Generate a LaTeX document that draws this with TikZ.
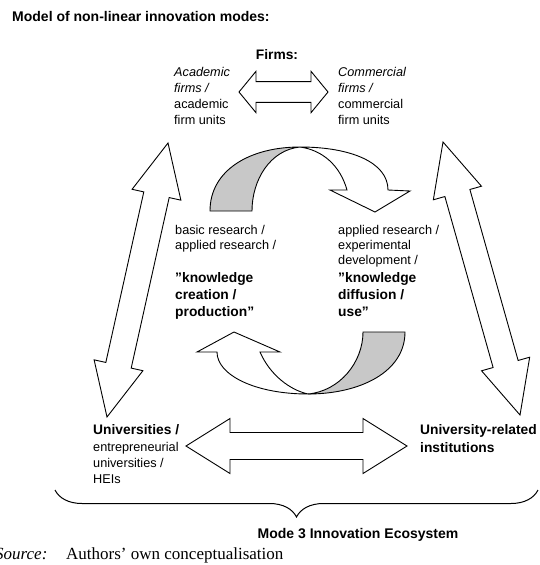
\documentclass[tikz,border=0pt]{standalone}
\usepackage{fontspec}
\setmainfont{Liberation Sans}
\newfontfamily\srcfont{Liberation Serif}
\usetikzlibrary{calc,decorations.pathreplacing}

\definecolor{bandgray}{HTML}{C8C8C8}

\tikzset{
  outline/.style={draw=black, line width=0.9pt, line join=miter},
  blockarrow/.style={outline, fill=white},
  % multi-line labels are placed by the baseline of their last line
  lbl/.style={inner sep=0pt, anchor=base west, align=left, text=black},
  regtext/.style={font=\fontsize{12.7}{16}\selectfont},
  boldtext/.style={font=\bfseries\fontsize{13.8}{17}\selectfont},
}

% double-headed block arrow between two points:
% #1,#2 tips, #3 shaft half-width, #4 head half-width, #5 head length
\newcommand\dblarrow[5]{%
  \draw[blockarrow] (#1)
    -- ($($(#1)!#5!(#2)$)!#4!90:(#2)$)
    -- ($($(#1)!#5!(#2)$)!#3!90:(#2)$)
    -- ($($(#2)!#5!(#1)$)!#3!-90:(#1)$)
    -- ($($(#2)!#5!(#1)$)!#4!-90:(#1)$)
    -- (#2)
    -- ($($(#2)!#5!(#1)$)!#4!90:(#1)$)
    -- ($($(#2)!#5!(#1)$)!#3!90:(#1)$)
    -- ($($(#1)!#5!(#2)$)!#3!-90:(#2)$)
    -- ($($(#1)!#5!(#2)$)!#4!-90:(#2)$)
    -- cycle;}

\begin{document}
\begin{tikzpicture}[x=1pt, y=-1pt]
\useasboundingbox (0,0) rectangle (539,565);

% ---- labels ----
\node[lbl, font=\bfseries\fontsize{14}{16}\selectfont] (title) at (12,21)
  {Model of non-linear innovation modes:};
\node[lbl, boldtext, anchor=base] (firms) at (277,59) {Firms:};
\node[lbl, regtext] (acad) at (174,124)
  {\textit{Academic}\\\textit{firms /}\\academic\\firm units};
\node[lbl, regtext] (comm) at (338,124)
  {\textit{Commercial}\\\textit{firms /}\\commercial\\firm units};

\node[lbl, font=\fontsize{12.7}{15}\selectfont] (basic) at (175,249)
  {basic research /\\applied research /};
\node[lbl, boldtext] (creation) at (175,316)
  {”knowledge\\creation /\\production”};
\node[lbl, font=\fontsize{12.7}{15}\selectfont] (applied) at (338,264)
  {applied research /\\experimental\\development /};
\node[lbl, boldtext] (diffusion) at (338,316)
  {”knowledge\\diffusion /\\use”};

\node[lbl, boldtext] (univ) at (93,434) {Universities /};
\node[lbl, regtext] (univsub) at (93,483)
  {entrepreneurial\\universities /\\HEIs};
\node[lbl, font=\bfseries\fontsize{13.8}{18}\selectfont] (inst) at (420,452)
  {University-related\\institutions};

\node[lbl, font=\bfseries\fontsize{14}{16}\selectfont, anchor=base] (eco) at (358,538)
  {Mode 3 Innovation Ecosystem};
\node[lbl, font=\srcfont\itshape\fontsize{17}{20}\selectfont] (srclbl) at (-5,559) {Source:};
\node[lbl, font=\srcfont\fontsize{17}{20}\selectfont] (srctext) at (66,559)
  {Authors’ own conceptualisation};

% ---- straight block arrows ----
\coordinate (fl) at (239,92);   \coordinate (fr) at (328,92);
\coordinate (ul) at (186,446);  \coordinate (ur) at (407,446);
\coordinate (lt) at (168,143);  \coordinate (lb) at (107,417);
\coordinate (rt) at (443,142);  \coordinate (rb) at (520,415);

\dblarrow{fl}{fr}{10.4pt}{20.7pt}{17pt}
\dblarrow{ul}{ur}{13.5pt}{27.5pt}{44pt}
\dblarrow{lt}{lb}{13pt}{25pt}{53pt}
\dblarrow{rt}{rb}{13pt}{25pt}{53pt}

% ---- upper curved arrow (creation -> diffusion) ----
\coordinate (ua1) at (210,211); \coordinate (ua2) at (252,211);
\coordinate (uap) at (300,147);
\coordinate (uso) at (388,190); \coordinate (ubr) at (410,191);
\coordinate (utip) at (375,212);
\coordinate (ubl) at (330,190); \coordinate (usi) at (347,190);

\draw[outline, fill=bandgray] (ua1) .. controls (210,170) and (250,147) .. (uap)
  .. controls (270,150) and (252,180) .. (ua2) -- cycle;
\draw[outline, fill=white] (uap) .. controls (350,147) and (388,162) .. (uso)
  -- (ubr) -- (utip) -- (ubl) -- (usi)
  .. controls (340,165) and (322,150) .. (uap) -- cycle;

% ---- lower curved arrow (diffusion -> creation) ----
\coordinate (lg1) at (363,332); \coordinate (lg2) at (405,332);
\coordinate (lap) at (308,394);
\coordinate (lso) at (217,352); \coordinate (lbl) at (197,352);
\coordinate (ltip) at (234,332);
\coordinate (lbr) at (280,352); \coordinate (lsi) at (260,352);

\draw[outline, fill=bandgray] (lg2) .. controls (405,372) and (360,394) .. (lap)
  .. controls (340,391) and (363,362) .. (lg1) -- cycle;
\draw[outline, fill=white] (lap) .. controls (255,394) and (217,375) .. (lso)
  -- (lbl) -- (ltip) -- (lbr) -- (lsi)
  .. controls (270,375) and (290,390) .. (lap) -- cycle;

% ---- ecosystem brace ----
\coordinate (bl) at (55,490); \coordinate (br) at (538,490);
\draw[decorate, decoration={brace, amplitude=27pt}, line width=1pt] (br) -- (bl);
\end{tikzpicture}
\end{document}
